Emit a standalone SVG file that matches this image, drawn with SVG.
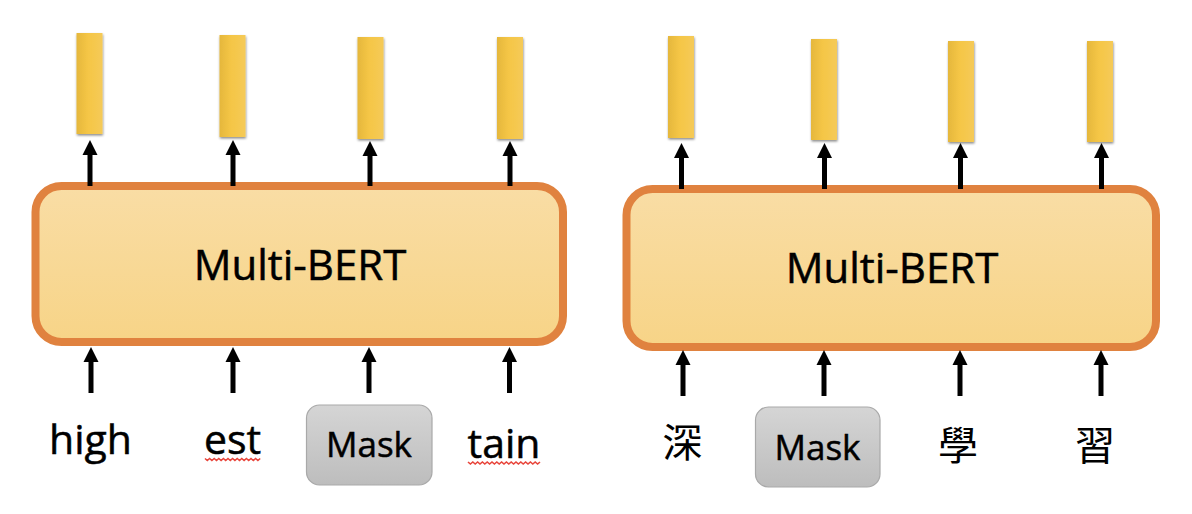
<svg xmlns="http://www.w3.org/2000/svg" width="1192" height="514" viewBox="0 0 1192 514">
  <defs>
    <linearGradient id="boxFill" x1="0" y1="0" x2="0" y2="1">
      <stop offset="0" stop-color="#f9dda5"/>
      <stop offset="1" stop-color="#f7d487"/>
    </linearGradient>
    <linearGradient id="barFill" x1="0" y1="0" x2="1" y2="0">
      <stop offset="0" stop-color="#e5b73c"/>
      <stop offset="0.45" stop-color="#f5c646"/>
      <stop offset="1" stop-color="#f5ca58"/>
    </linearGradient>
    <linearGradient id="maskFill" x1="0" y1="0" x2="0" y2="1">
      <stop offset="0" stop-color="#d5d5d5"/>
      <stop offset="1" stop-color="#bdbdbd"/>
    </linearGradient>
    <filter id="shadow" x="-30%" y="-10%" width="160%" height="125%">
      <feDropShadow dx="0.5" dy="1.5" stdDeviation="1.2" flood-color="#000" flood-opacity="0.45"/>
    </filter>
    <marker id="head" markerUnits="userSpaceOnUse" markerWidth="16" markerHeight="16" viewBox="0 0 16 16" refX="5" refY="8" orient="auto">
      <path d="M0,0.5 L15,8 L0,15.5 z" fill="#000"/>
    </marker>
  </defs>
  <style>
    .bert { fill: url(#boxFill); stroke: #e0823f; stroke-width: 8; }
    .bar { fill: url(#barFill); filter: url(#shadow); }
    .mask { fill: url(#maskFill); stroke: #a9a9a9; stroke-width: 1.2; }
    .label { font-family: "Open Sans", "Noto Sans", sans-serif; fill: #000; stroke: #000; stroke-width: 0.5; text-anchor: middle; }
    .big { font-size: 42px; }
    .word { font-size: 41px; }
    .mtxt { font-size: 35px; }
    .cjk { font-family: "Noto Sans CJK TC", "Noto Sans CJK SC", sans-serif; font-size: 40px; fill: #000; text-anchor: middle; }
    .arrow { stroke: #000; stroke-width: 5; fill: none; marker-end: url(#head); }
    .squiggle { stroke: #e8453b; stroke-width: 1.6; fill: none; }
  </style>

  <!-- Left panel -->
  <g id="bert-left">
    <rect class="bert" x="35.5" y="186" width="527.5" height="156" rx="26" ry="26"/>
    <text class="label big" x="300" y="280">Multi-BERT</text>
  </g>
  <g id="out-left-1"><rect class="bar" x="76.5" y="33" width="26" height="101"/></g>
  <g id="out-left-2"><rect class="bar" x="219.5" y="35" width="26" height="102"/></g>
  <g id="out-left-3"><rect class="bar" x="357.5" y="37" width="26" height="102"/></g>
  <g id="out-left-4"><rect class="bar" x="497" y="37" width="26" height="102"/></g>

  <g id="in-high"><text class="label word" x="90.5" y="454">high</text></g>
  <g id="in-est">
    <text class="label word" x="232.5" y="454">est</text>
    <path class="squiggle" d="M205,458.5 l2.3,2 l2.3,-2 l2.3,2 l2.3,-2 l2.3,2 l2.3,-2 l2.3,2 l2.3,-2 l2.3,2 l2.3,-2 l2.3,2 l2.3,-2 l2.3,2 l2.3,-2 l2.3,2 l2.3,-2 l2.3,2 l2.3,-2 l2.3,2 l2.3,-2 l2.3,2 l2.3,-2 l2.3,2 l2.3,-2"/>
  </g>
  <g id="in-mask-left">
    <rect class="mask" x="306.5" y="405" width="125.5" height="80" rx="13" ry="13"/>
    <text class="label mtxt" x="369" y="457">Mask</text>
  </g>
  <g id="in-tain">
    <text class="label word" x="504" y="458">tain</text>
    <path class="squiggle" d="M468,462 l2.4,2 l2.4,-2 l2.4,2 l2.4,-2 l2.4,2 l2.4,-2 l2.4,2 l2.4,-2 l2.4,2 l2.4,-2 l2.4,2 l2.4,-2 l2.4,2 l2.4,-2 l2.4,2 l2.4,-2 l2.4,2 l2.4,-2 l2.4,2 l2.4,-2 l2.4,2 l2.4,-2 l2.4,2 l2.4,-2 l2.4,2 l2.4,-2 l2.4,2 l2.4,-2 l2.4,2 l2.4,-2"/>
  </g>

  <!-- Right panel -->
  <g id="bert-right">
    <rect class="bert" x="626.5" y="189" width="529.5" height="158" rx="26" ry="26"/>
    <text class="label big" x="892" y="283">Multi-BERT</text>
  </g>
  <g id="out-right-1"><rect class="bar" x="668" y="36" width="26" height="102"/></g>
  <g id="out-right-2"><rect class="bar" x="811" y="39" width="26" height="101"/></g>
  <g id="out-right-3"><rect class="bar" x="948" y="41" width="26" height="101"/></g>
  <g id="out-right-4"><rect class="bar" x="1087" y="41" width="26" height="101"/></g>

  <g id="in-shen"><text class="cjk" x="682.5" y="457">深</text></g>
  <g id="in-mask-right">
    <rect class="mask" x="755.5" y="407" width="124.5" height="80" rx="13" ry="13"/>
    <text class="label mtxt" x="817.5" y="460">Mask</text>
  </g>
  <g id="in-xue"><text class="cjk" x="958" y="460">學</text></g>
  <g id="in-xi"><text class="cjk" x="1095" y="460">習</text></g>

  <!-- Connectors -->
  <g id="connectors">
    <line class="arrow" x1="90" y1="186" x2="90" y2="150"/>
    <line class="arrow" x1="233" y1="186" x2="233" y2="150"/>
    <line class="arrow" x1="370" y1="186" x2="370" y2="151"/>
    <line class="arrow" x1="510" y1="186" x2="510" y2="151"/>
    <line class="arrow" x1="91" y1="393" x2="91" y2="357"/>
    <line class="arrow" x1="233" y1="393" x2="233" y2="357"/>
    <line class="arrow" x1="369" y1="393" x2="369" y2="357"/>
    <line class="arrow" x1="509.5" y1="393" x2="509.5" y2="357"/>

    <line class="arrow" x1="681.5" y1="189" x2="681.5" y2="153"/>
    <line class="arrow" x1="824.5" y1="189" x2="824.5" y2="153"/>
    <line class="arrow" x1="960.5" y1="189" x2="960.5" y2="153"/>
    <line class="arrow" x1="1101.5" y1="189" x2="1101.5" y2="153"/>
    <line class="arrow" x1="683" y1="396" x2="683" y2="360"/>
    <line class="arrow" x1="824" y1="396" x2="824" y2="360"/>
    <line class="arrow" x1="960" y1="396" x2="960" y2="360"/>
    <line class="arrow" x1="1101" y1="396" x2="1101" y2="360"/>
  </g>
</svg>
